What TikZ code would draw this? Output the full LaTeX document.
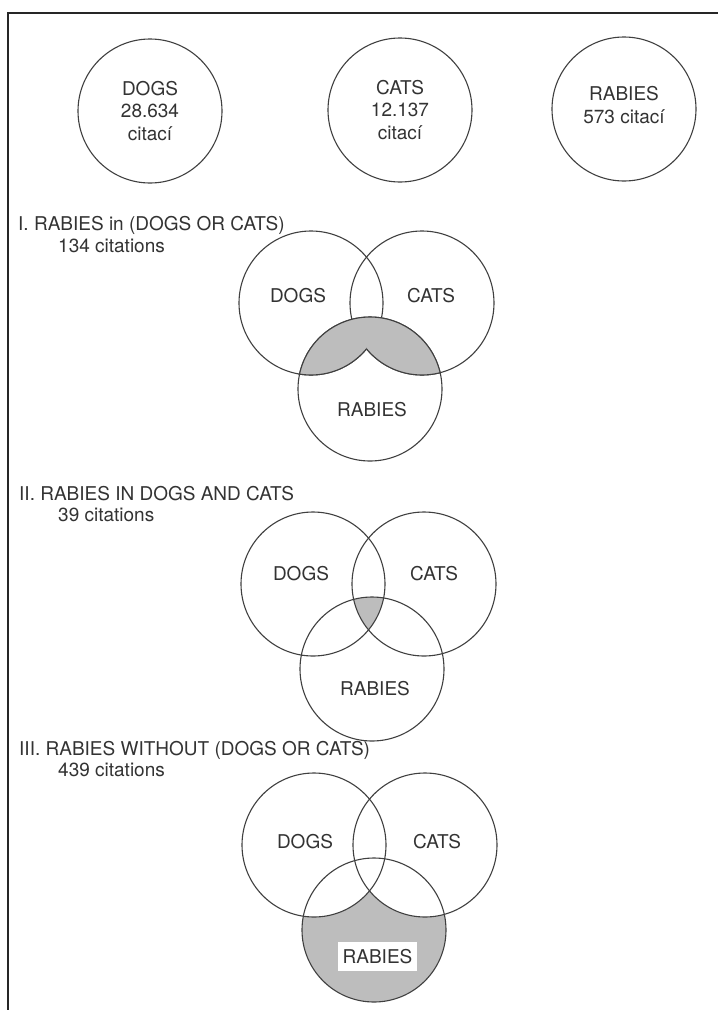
\documentclass[tikz,border=0pt]{standalone}
\usepackage{fontspec}
\setmainfont{TeX Gyre Heros}
\begin{document}
\begin{tikzpicture}[x=1pt,y=-1pt,
  edge/.style={draw=black!75, line width=1.1pt},
  ring/.style={circle, edge, minimum size=144pt, inner sep=0pt},
  lbl/.style={font=\fontsize{19}{22.5}\selectfont, text=black!80, inner sep=0pt},
  ttl/.style={lbl, anchor=base west},
  shade/.style={fill=black!26}]
\useasboundingbox (0,0) rectangle (718,1010);
\fill[white] (0,0) rectangle (718,1010);
% page frame (left and top edges only)
\draw[line width=2pt, black!85] (8,1010) -- (8,12.7) -- (718,12.7);

% ---- single sets ----
\node[ring] (dogs0) at (150,111) {};
\node[ring] (cats0) at (400,110) {};
\node[ring] (rab0) at (624,109) {};
\node[lbl, align=center] (dogs0t) at (dogs0.center) {DOGS\\28.634\\citací};
\node[lbl, align=center] (cats0t) at (cats0.center) {CATS\\12.137\\citací};
\node[lbl, align=center] (rab0t) at ([yshift=4pt]rab0.center) {RABIES\\573 citací};

% ---- I. RABIES in (DOGS OR CATS) ----
\node[ttl] (t1) at (18,230) {I. RABIES in (DOGS OR CATS)};
\node[ttl] (n1) at (58,252) {134 citations};
\coordinate (D1) at (311,303);
\coordinate (C1) at (422,303);
\coordinate (R1) at (370,389);
\node[ring] (d1) at (D1) {};
\node[ring] (c1) at (C1) {};
\node[ring] (r1) at (R1) {};
% shaded union inside RABIES, drawn over the inner lens arcs
\begin{scope}
  \clip (R1) circle[radius=72];
  \fill[shade] (D1) circle[radius=72] (C1) circle[radius=72];
\end{scope}
% outline of the shaded region
\begin{scope}
  \clip (D1) circle[radius=73] (C1) circle[radius=73];
  \draw[edge] (R1) circle[radius=72];
\end{scope}
\begin{scope}
  \clip (R1) circle[radius=73];
  \clip (0,0) rectangle (366.5,1010);
  \draw[edge] (D1) circle[radius=72];
\end{scope}
\begin{scope}
  \clip (R1) circle[radius=73];
  \clip (366.5,0) rectangle (718,1010);
  \draw[edge] (C1) circle[radius=72];
\end{scope}
\node[lbl] (d1t) at (298,296) {DOGS};
\node[lbl] (c1t) at (431,296) {CATS};
\node[lbl] (r1t) at (372,410) {RABIES};

% ---- II. RABIES IN DOGS AND CATS ----
\node[ttl] (t2) at (19,500) {II. RABIES IN DOGS AND CATS};
\node[ttl] (n2) at (58,521) {39 citations};
\coordinate (D2) at (313,584);
\coordinate (C2) at (424,584);
\coordinate (R2) at (372,669);
\begin{scope}
  \clip (R2) circle[radius=72];
  \clip (D2) circle[radius=72];
  \fill[shade] (C2) circle[radius=72];
\end{scope}
\node[ring] (d2) at (D2) {};
\node[ring] (c2) at (C2) {};
\node[ring] (r2) at (R2) {};
\node[lbl] (d2t) at (301,573.5) {DOGS};
\node[lbl] (c2t) at (434,573.5) {CATS};
\node[lbl] (r2t) at (375,689) {RABIES};

% ---- III. RABIES WITHOUT (DOGS OR CATS) ----
\node[ttl] (t3) at (19,755) {III. RABIES WITHOUT (DOGS OR CATS)};
\node[ttl] (n3) at (58,776) {439 citations};
\coordinate (D3) at (314,845);
\coordinate (C3) at (425,845);
\coordinate (R3) at (374,930);
\fill[shade] (R3) circle[radius=72];
\begin{scope}
  \clip (R3) circle[radius=72];
  \fill[white] (D3) circle[radius=72] (C3) circle[radius=72];
\end{scope}
\node[ring] (d3) at (D3) {};
\node[ring] (c3) at (C3) {};
\node[ring] (r3) at (R3) {};
\node[lbl] (d3t) at (305,841.5) {DOGS};
\node[lbl] (c3t) at (437,841.5) {CATS};
\node[lbl, fill=white, inner xsep=4.5pt, inner ysep=7pt] (r3t) at (377.5,956.5) {RABIES};
\end{tikzpicture}
\end{document}
